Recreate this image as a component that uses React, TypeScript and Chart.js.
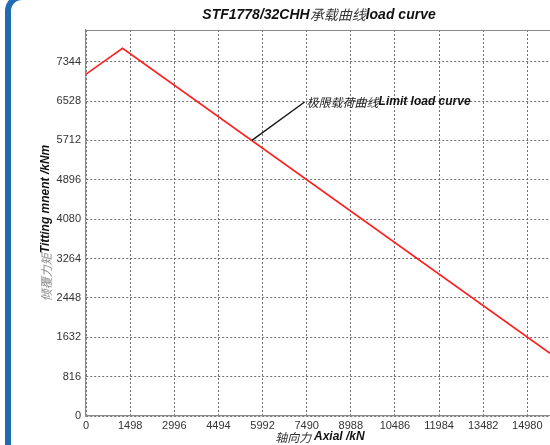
import React, { useEffect, useRef } from "react";
import { Chart, registerables } from "chart.js";

Chart.register(...registerables);

// ---- data ----
const axialKN = [0, 1240, 15750];
const momentKNm = [7085, 7620, 1300];
const xTicks = [0, 1498, 2996, 4494, 5992, 7490, 8988, 10486, 11984, 13482, 14980];
const yTicks = [0, 816, 1632, 2448, 3264, 4080, 4896, 5712, 6528, 7344];
const xMax = 15750;
const yMax = 8000;
const titleParts = ["STF1778/32CHH", "承载曲线", "load curve"];
const xTitleParts = ["轴向力 ", "Axial /kN"];
const yTitleParts = ["倾覆力矩", "Titting mnent /kNm"];
const annotationParts = ["极限载荷曲线", "Limit load curve"];
const annotationTip = [5630, 5712];
const annotationLabel = [7420, 6528];

const SANS = '"Liberation Sans", Arial, sans-serif';
const CJK = '"Noto Sans CJK SC", sans-serif';

type Seg = { text: string; font: string; color: string };

function drawSegs(ctx: CanvasRenderingContext2D, segs: Seg[], x: number, y: number, align: "center" | "left") {
  let total = 0;
  const widths = segs.map((s) => {
    ctx.font = s.font;
    const w = ctx.measureText(s.text).width;
    total += w;
    return w;
  });
  let cx = align === "center" ? x - total / 2 : x;
  ctx.textBaseline = "middle";
  ctx.textAlign = "left";
  segs.forEach((s, i) => {
    ctx.font = s.font;
    ctx.fillStyle = s.color;
    ctx.fillText(s.text, cx, y);
    cx += widths[i];
  });
}

const decorPlugin = {
  id: "decor",
  beforeDraw(chart: any) {
    const ctx = chart.ctx as CanvasRenderingContext2D;
    ctx.save();
    ctx.strokeStyle = "#1f6cb3";
    ctx.lineWidth = 6;
    ctx.beginPath();
    (ctx as any).roundRect(8, -3, 1200, 1200, 14);
    ctx.stroke();
    ctx.restore();
  },
  afterDraw(chart: any) {
    const ctx = chart.ctx as CanvasRenderingContext2D;
    const area = chart.chartArea;
    const xs = chart.scales.x;
    const ys = chart.scales.y;
    ctx.save();
    // top border of plot box
    ctx.strokeStyle = "#8a8a8a";
    ctx.lineWidth = 1;
    ctx.beginPath();
    ctx.moveTo(area.left, area.top + 0.5);
    ctx.lineTo(area.right, area.top + 0.5);
    ctx.stroke();

    // annotation
    const tx = xs.getPixelForValue(annotationTip[0]);
    const ty = ys.getPixelForValue(annotationTip[1]);
    const lx = xs.getPixelForValue(annotationLabel[0]);
    const ly = ys.getPixelForValue(annotationLabel[1]);
    ctx.strokeStyle = "#111";
    ctx.lineWidth = 1.3;
    ctx.beginPath();
    ctx.moveTo(tx, ty);
    ctx.lineTo(lx, ly + 1);
    ctx.stroke();
    drawSegs(
      ctx,
      [
        { text: annotationParts[0], font: `italic 12px ${CJK}`, color: "#222" },
        { text: annotationParts[1], font: `italic bold 12px ${SANS}`, color: "#111" },
      ],
      lx + 2,
      ly + 1,
      "left"
    );

    // title
    const cx = (area.left + area.right) / 2;
    drawSegs(
      ctx,
      [
        { text: titleParts[0], font: `italic bold 14px ${SANS}`, color: "#111" },
        { text: titleParts[1], font: `italic 14px ${CJK}`, color: "#333" },
        { text: titleParts[2], font: `italic bold 14px ${SANS}`, color: "#111" },
      ],
      cx + 1,
      15,
      "center"
    );

    // x title
    drawSegs(
      ctx,
      [
        { text: xTitleParts[0], font: `italic 12px ${CJK}`, color: "#333" },
        { text: xTitleParts[1], font: `italic bold 12px ${SANS}`, color: "#111" },
      ],
      cx + 2,
      437,
      "center"
    );

    // y title
    ctx.save();
    ctx.translate(46, (area.top + area.bottom) / 2);
    ctx.rotate(-Math.PI / 2);
    drawSegs(
      ctx,
      [
        { text: yTitleParts[0], font: `italic 12px ${CJK}`, color: "#8a8a8a" },
        { text: yTitleParts[1], font: `italic bold 12px ${SANS}`, color: "#111" },
      ],
      0,
      0,
      "center"
    );
    ctx.restore();
    ctx.restore();
  },
};

export default function App() {
  const ref = useRef<HTMLCanvasElement | null>(null);
  useEffect(() => {
    if (!ref.current) return;
    const data = axialKN.map((x, i) => ({ x, y: momentKNm[i] }));
    const chart = new Chart(ref.current, {
      type: "line",
      data: {
        datasets: [
          {
            data,
            borderColor: "#ff1f1f",
            borderWidth: 1.6,
            pointRadius: 0,
            tension: 0,
            fill: false,
          },
        ],
      },
      options: {
        animation: false,
        responsive: false,
        devicePixelRatio: 1,
        layout: { padding: { top: 30, left: 0, right: 0, bottom: 0 } },
        plugins: { legend: { display: false }, title: { display: false }, tooltip: { enabled: false } },
        scales: {
          x: {
            type: "linear",
            min: 0,
            max: xMax,
            afterBuildTicks: (s: any) => {
              s.ticks = xTicks.map((v) => ({ value: v }));
            },
            afterFit: (s: any) => {
              s.height = 29;
            },
            grid: { color: "#707070", lineWidth: 1, drawTicks: false },
            border: { display: true, color: "#8a8a8a", width: 1.2, dash: [2, 2] },
            ticks: {
              autoSkip: false,
              maxRotation: 0,
              padding: 3,
              color: "#333",
              font: { family: SANS, size: 11 },
              callback: (v: any) => String(v),
            },
          },
          y: {
            type: "linear",
            min: 0,
            max: yMax,
            afterBuildTicks: (s: any) => {
              s.ticks = yTicks.map((v) => ({ value: v }));
            },
            afterFit: (s: any) => {
              s.width = 86;
            },
            grid: { color: "#707070", lineWidth: 1, drawTicks: false },
            border: { display: true, color: "#8a8a8a", width: 1.2, dash: [2, 2] },
            ticks: {
              autoSkip: false,
              padding: 5,
              color: "#333",
              font: { family: SANS, size: 11 },
              callback: (v: any) => String(v),
            },
          },
        },
      },
      plugins: [decorPlugin],
    } as any);
    return () => chart.destroy();
  }, []);
  return (
    <div style={{ position: "fixed", left: 0, top: 0, width: 550, height: 445, background: "#fff", overflow: "hidden" }}>
      <canvas ref={ref} width={550} height={445} style={{ display: "block", width: 550, height: 445 }} />
    </div>
  );
}
